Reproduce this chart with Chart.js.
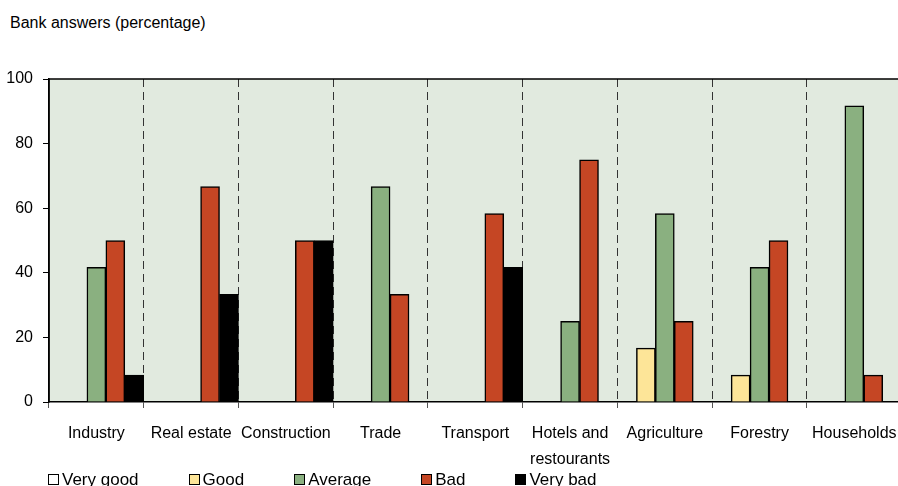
<!DOCTYPE html>
<html>
<head>
<meta charset="utf-8">
<script src="https://cdn.jsdelivr.net/npm/chart.js@4.4.1/dist/chart.umd.min.js"></script>
<style>
  html, body { margin: 0; padding: 0; background: #fff; overflow: hidden; }
  body { width: 898px; height: 486px; position: relative; font-family: "Liberation Sans", Arial, sans-serif; color: #000; }
  #title { position: absolute; left: 10px; top: 14px; font-size: 16px; line-height: 18px; }
  #wrap { position: absolute; left: 0; top: 0; }
  #legend { position: absolute; left: 48px; top: 470px; display: flex; font-size: 17px; line-height: 20px; }
  .item { display: flex; align-items: center; margin-right: 50px; white-space: nowrap; }
  .box { width: 9px; height: 9px; border: 1px solid #000; margin-right: 3px; margin-top: -1px; }
</style>
</head>
<body>
<div id="title">Bank answers (percentage)</div>
<div id="wrap"><canvas id="bankChart" width="910" height="490"></canvas></div>
<div id="legend"></div>

<script>
// sectors, with "Hotels and restourants" split over two lines
const sectors = ['Industry', 'Real estate', 'Construction', 'Trade', 'Transport',
  ['Hotels and', 'restourants'], 'Agriculture', 'Forestry', 'Households'];

const veryGood = [0, 0, 0, 0, 0, 0, 0, 0, 0];
const good     = [0, 0, 0, 0, 0, 0, 16.7, 8.3, 0];
const average  = [41.7, 0, 0, 66.7, 0, 25, 58.3, 41.7, 91.7];
const bad      = [50, 66.7, 50, 33.3, 58.3, 75, 25, 50, 8.3];
const veryBad  = [8.3, 33.3, 50, 0, 41.7, 0, 0, 0, 0];

const yTicks = [0, 20, 40, 60, 80, 100];

const seriesNames  = ['Very good', 'Good', 'Average', 'Bad', 'Very bad'];
const seriesColors = ['#ffffff', '#fde598', '#8ab080', '#c54624', '#000000'];
const seriesValues = [veryGood, good, average, bad, veryBad];

// green-grey plot area with a solid frame
const plotBackground = {
  id: 'plotBackground',
  beforeDraw(chart) {
    const { ctx, chartArea: a } = chart;
    ctx.save();
    ctx.fillStyle = '#e1eadf';
    ctx.fillRect(a.left, a.top, a.right - a.left, a.bottom - a.top);
    ctx.restore();
  },
  afterDraw(chart) {
    const { ctx, chartArea: a } = chart;
    ctx.save();
    ctx.strokeStyle = '#000';
    ctx.lineWidth = 1.5;
    ctx.beginPath();
    ctx.moveTo(a.left, a.bottom);
    ctx.lineTo(a.left, a.top);
    ctx.lineTo(a.right, a.top);
    ctx.lineTo(a.right, a.bottom);
    ctx.stroke();
    ctx.restore();
  }
};

const ctx = document.getElementById('bankChart').getContext('2d');
const chart = new Chart(ctx, {
  type: 'bar',
  data: {
    labels: sectors,
    datasets: seriesNames.map((name, i) => ({
      label: name,
      data: seriesValues[i],
      backgroundColor: seriesColors[i],
      borderColor: '#000',
      borderWidth: 1.5,
      categoryPercentage: 1,
      barPercentage: 1
    }))
  },
  options: {
    responsive: false,
    animation: false,
    layout: { padding: { top: 79, right: 8, bottom: 20, left: 0 } },
    plugins: {
      legend: { display: false },
      tooltip: { enabled: false }
    },
    scales: {
      x: {
        afterFit(scale) { scale.height = 68; },
        grid: {
          offset: true,
          color: '#333',
          lineWidth: 1,
          tickLength: 6,
          tickColor: '#555'
        },
        border: { display: true, color: '#000', width: 1.5, dash: [8, 5] },
        ticks: {
          color: '#000',
          padding: 13,
          maxRotation: 0,
          autoSkip: false,
          font: { family: '"Liberation Sans", Arial, sans-serif', size: 16, lineHeight: 1.6 }
        }
      },
      y: {
        min: 0,
        max: 100,
        afterFit(scale) { scale.width = 49; },
        afterBuildTicks(scale) { scale.ticks = yTicks.map(v => ({ value: v })); },
        grid: {
          drawOnChartArea: false,
          tickLength: 6,
          tickColor: '#000'
        },
        border: { display: true, color: '#000', width: 1.5 },
        ticks: {
          color: '#000',
          padding: 10,
          font: { family: '"Liberation Sans", Arial, sans-serif', size: 16 }
        }
      }
    }
  },
  plugins: [plotBackground]
});

// legend row under the axis
const legend = document.getElementById('legend');
chart.data.datasets.forEach(ds => {
  const item = document.createElement('div');
  item.className = 'item';
  const box = document.createElement('span');
  box.className = 'box';
  box.style.background = ds.backgroundColor;
  item.appendChild(box);
  item.appendChild(document.createTextNode(ds.label));
  legend.appendChild(item);
});
</script>
</body>
</html>
